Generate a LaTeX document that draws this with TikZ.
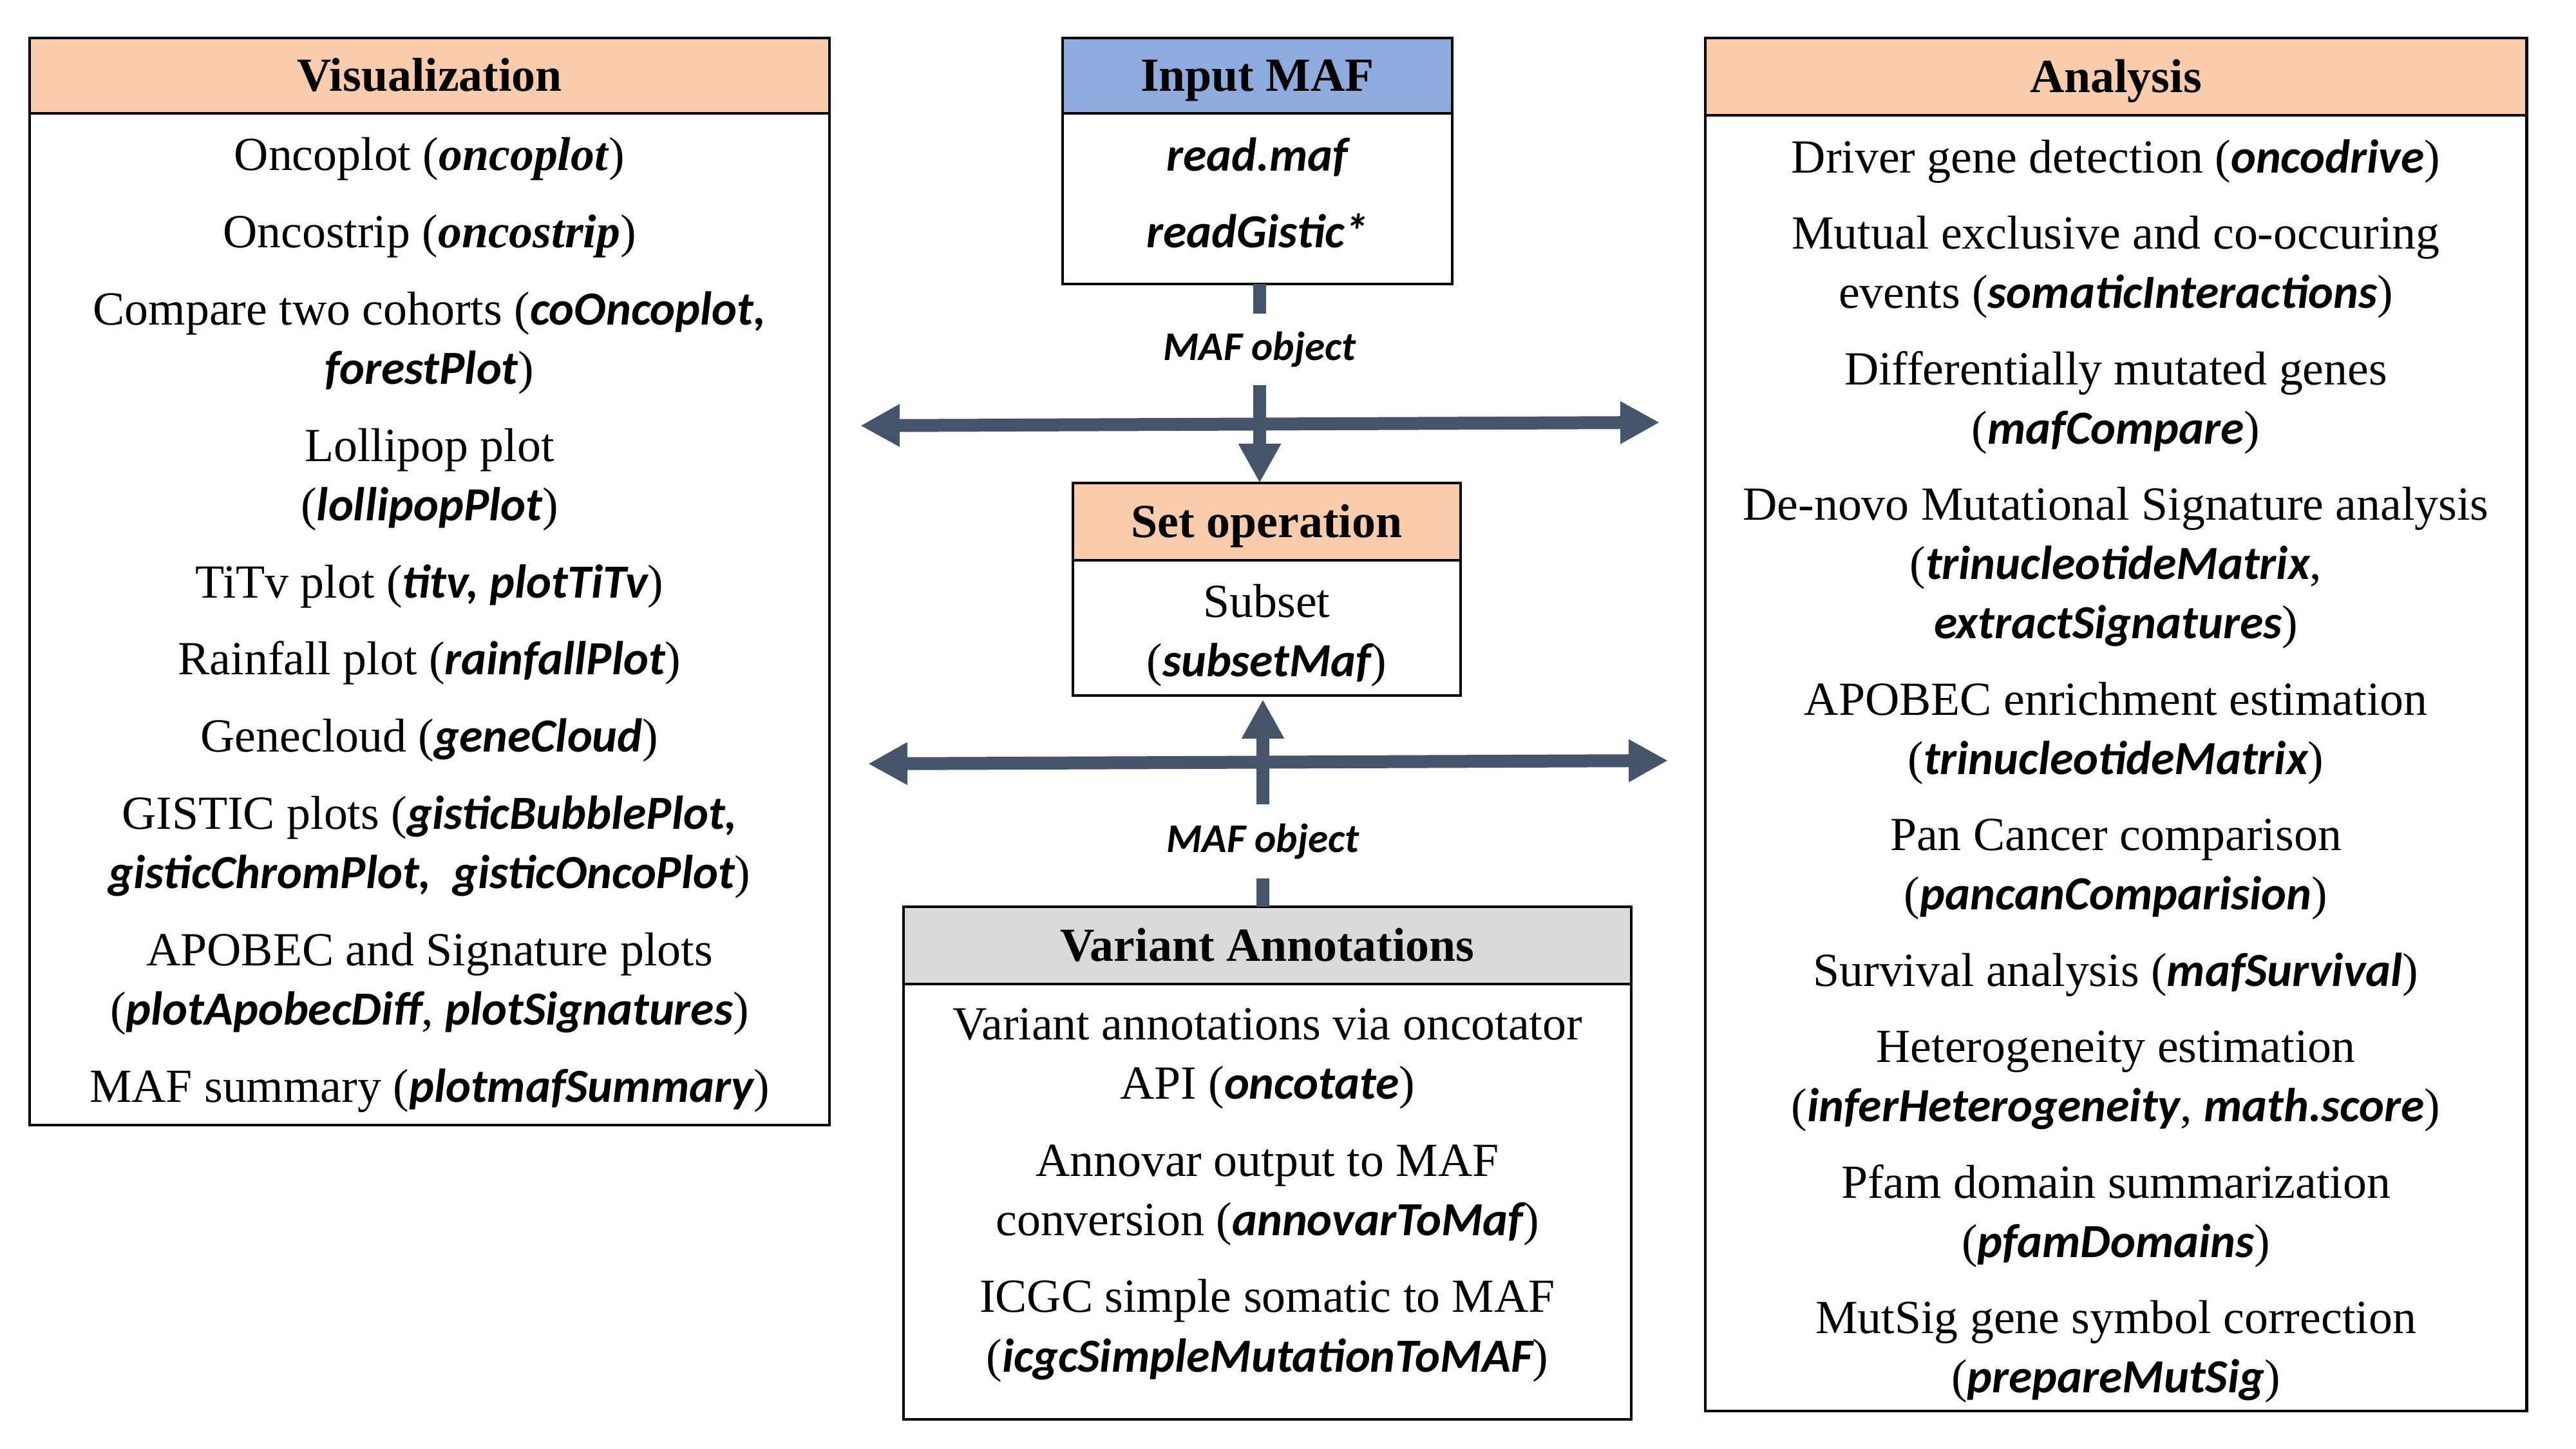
\documentclass[tikz,border=0pt]{standalone}
\usepackage{fontspec}
\usepackage{xcolor}
\usepackage{tikz}
\usetikzlibrary{arrows.meta}
\usetikzlibrary{positioning}
\setmainfont{Liberation Serif}
\newfontfamily\carlito{Carlito}
\newcommand{\rfn}[1]{{\carlito\bfseries\itshape #1}}
\definecolor{peach}{HTML}{F8CBAD}
\definecolor{inblue}{HTML}{8FAADC}
\definecolor{annogray}{HTML}{D9D9D9}
\definecolor{slate}{HTML}{44546A}
\tikzset{
    boxframe/.style = {draw=black, line width=1.4pt, inner sep=0pt, outer sep=0pt},
    boxhead/.style = {boxframe, text height=14.3pt, text depth=0.5pt, font=\fontsize{21}{26.2}\selectfont\bfseries},
    itemtext/.style = {align=center, anchor=north, inner xsep=0pt, inner ysep=10.4pt, font=\fontsize{21}{26.2}\selectfont},
    objlabel/.style = {inner sep=0pt, font=\fontsize{18}{22}\selectfont\carlito\bfseries\itshape},
    flow/.style = {draw=slate, line width=0.2cm},
    flowarrow/.style = {flow, -{Triangle[length=0.61cm,width=0.62cm]}},
    flowboth/.style = {flow, {Triangle[length=0.61cm,width=0.62cm]}-{Triangle[length=0.61cm,width=0.62cm]}}
}

\begin{document}
\begin{tikzpicture}
\path[fill=white, use as bounding box] (0,0) rectangle (40,-22.5);

% Visualization
\node [boxhead, fill=peach, minimum width=12.42cm, minimum height=1.17cm] (vishead) at (6.67,-1.175) {Visualization};
\node [boxframe, minimum width=12.42cm, minimum height=15.71cm, below=0pt of vishead] (visbody) {};
\node [itemtext] (vistext) at (visbody.north) {Oncoplot (\textbf{\textit{oncoplot}})\\[7.9pt]
    Oncostrip (\textbf{\textit{oncostrip}})\\[7.9pt]
    Compare two cohorts (\rfn{coOncoplot,}\\ \rfn{forestPlot})\\[7.9pt]
    Lollipop plot\\ (\rfn{lollipopPlot})\\[7.9pt]
    TiTv plot (\rfn{titv, plotTiTv})\\[7.9pt]
    Rainfall plot (\rfn{rainfallPlot})\\[7.9pt]
    Genecloud (\rfn{geneCloud})\\[7.9pt]
    GISTIC plots (\rfn{gisticBubblePlot,}\\ \rfn{gisticChromPlot,\ \ gisticOncoPlot})\\[7.9pt]
    APOBEC and Signature plots\\ (\rfn{plotApobecDiff}, \rfn{plotSignatures})\\[7.9pt]
    MAF summary (\rfn{plotmafSummary})};

% Input MAF
\node [boxhead, fill=inblue, minimum width=6.05cm, minimum height=1.17cm] (inhead) at (19.525,-1.175) {Input MAF};
\node [boxframe, minimum width=6.05cm, minimum height=2.65cm, below=0pt of inhead] (inbody) {};
\node [itemtext] (intext) at (inbody.north) {\rfn{read.maf}\\[7.9pt] \rfn{readGistic*}};

% Set operation
\node [boxhead, fill=peach, minimum width=6.02cm, minimum height=1.20cm] (sethead) at (19.67,-8.10) {Set operation};
\node [boxframe, minimum width=6.02cm, minimum height=2.10cm, below=0pt of sethead] (setbody) {};
\node [itemtext] (settext) at (setbody.north) {Subset\\ (\rfn{subsetMaf})};

% Variant Annotations
\node [boxhead, fill=annogray, minimum width=11.30cm, minimum height=1.20cm] (annohead) at (19.68,-14.68) {Variant Annotations};
\node [boxframe, minimum width=11.30cm, minimum height=6.76cm, below=0pt of annohead] (annobody) {};
\node [itemtext] (annotext) at (annobody.north) {Variant annotations via oncotator\\ API (\rfn{oncotate})\\[7.9pt]
    Annovar output to MAF\\ conversion (\rfn{annovarToMaf})\\[7.9pt]
    ICGC simple somatic to MAF\\ (\rfn{icgcSimpleMutationToMAF})};

% Analysis
\node [boxhead, fill=peach, minimum width=12.75cm, minimum height=1.20cm] (anahead) at (32.855,-1.19) {Analysis};
\node [boxframe, minimum width=12.75cm, minimum height=20.12cm, below=0pt of anahead] (anabody) {};
\node [itemtext] (anatext) at (anabody.north) {Driver gene detection (\rfn{oncodrive})\\[7.5pt]
    Mutual exclusive and co-occuring\\ events (\rfn{somaticInteractions})\\[7.5pt]
    Differentially mutated genes\\ (\rfn{mafCompare})\\[7.5pt]
    De-novo Mutational Signature analysis\\ (\rfn{trinucleotideMatrix},\\ \rfn{extractSignatures})\\[7.5pt]
    APOBEC enrichment estimation\\ (\rfn{trinucleotideMatrix})\\[7.5pt]
    Pan Cancer comparison\\ (\rfn{pancanComparision})\\[7.5pt]
    Survival analysis (\rfn{mafSurvival})\\[7.5pt]
    Heterogeneity estimation\\ (\rfn{inferHeterogeneity}, \rfn{math.score})\\[7.5pt]
    Pfam domain summarization\\ (\rfn{pfamDomains})\\[7.5pt]
    MutSig gene symbol correction\\ (\rfn{prepareMutSig})};

% MAF object flows
\node [objlabel, minimum height=1.09cm] (objtop) at (19.56,-5.425) {MAF object};
\node [objlabel, minimum height=1.13cm] (objbot) at (19.61,-13.065) {MAF object};
\coordinate (topleft) at (13.36,-6.61);
\coordinate (topright) at (25.77,-6.56);
\coordinate (botleft) at (13.48,-11.86);
\coordinate (botright) at (25.90,-11.81);

\draw [flowboth] (topright) -- (topleft);
\draw [flowboth] (botright) -- (botleft);
\draw [flow] (inbody.south -| objtop) -- (objtop.north);
\draw [flowarrow] (objtop.south) -- (sethead.north -| objtop);
\draw [flow] (annohead.north -| objbot) -- (objbot.south);
\draw [flowarrow] (objbot.north) -- ([yshift=-0.06cm]setbody.south -| objbot);
\end{tikzpicture}
\end{document}
